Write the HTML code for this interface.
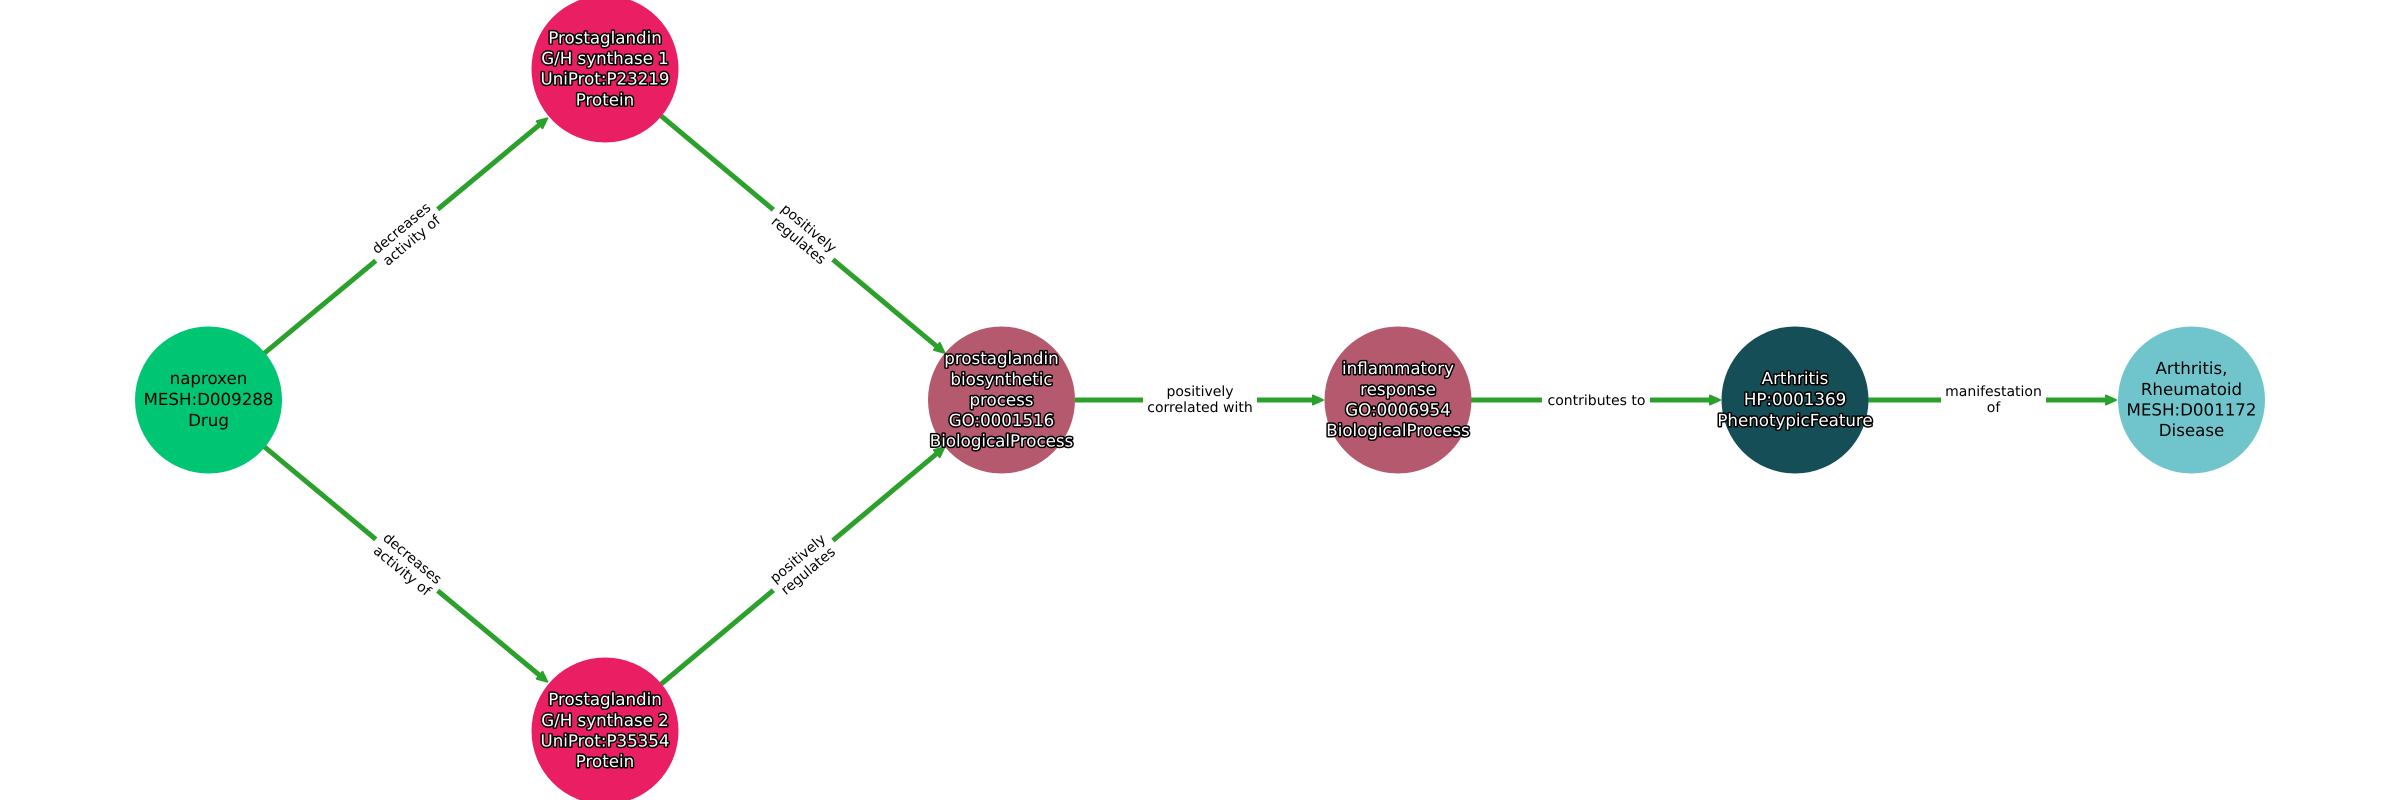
<!DOCTYPE html>
<html><head><meta charset="utf-8"><style>
html,body{margin:0;padding:0;background:#fff;width:2400px;height:800px;overflow:hidden}
svg{display:block}
text{font-family:"DejaVu Sans",sans-serif;text-anchor:middle;text-rendering:geometricPrecision}
.n{font-size:16.67px;fill:#000}
.o{font-size:16.67px;fill:#fff;stroke:#000;stroke-width:3px;paint-order:stroke;stroke-linejoin:round}
.e{font-size:14px;fill:#000}
.l{stroke:#2ca02c;stroke-width:5;fill:none}
.a{fill:#2ca02c;stroke:#2ca02c;stroke-width:2;stroke-linejoin:round}
</style></head><body>
<svg width="2400" height="800" viewBox="0 0 2400 800" xmlns="http://www.w3.org/2000/svg">
<!-- edges -->
<g transform="translate(208,400) rotate(-39.7)">
<line class="l" x1="73" x2="432" y1="0" y2="0"/><polygon class="a" points="441,0 431,-4.5 431,4.5"/>
<rect x="218" y="-30" width="80.5" height="60" fill="#fff"/>
<text class="e" x="258.5" y="-4">decreases</text><text class="e" x="258.5" y="12">activity of</text></g>
<g transform="translate(605,69) rotate(39.9)">
<line class="l" x1="73" x2="434" y1="0" y2="0"/><polygon class="a" points="442.5,0 432.5,-4.5 432.5,4.5"/>
<rect x="219.5" y="-30" width="77.5" height="60" fill="#fff"/>
<text class="e" x="258.5" y="-4">positively</text><text class="e" x="258.5" y="12">regulates</text></g>
<g transform="translate(208,400) rotate(39.7)">
<line class="l" x1="73" x2="432" y1="0" y2="0"/><polygon class="a" points="441,0 431,-4.5 431,4.5"/>
<rect x="218" y="-30" width="80.5" height="60" fill="#fff"/>
<text class="e" x="258.5" y="-4">decreases</text><text class="e" x="258.5" y="12">activity of</text></g>
<g transform="translate(605,731) rotate(-39.9)">
<line class="l" x1="73" x2="434" y1="0" y2="0"/><polygon class="a" points="442.5,0 432.5,-4.5 432.5,4.5"/>
<rect x="219.5" y="-30" width="77.5" height="60" fill="#fff"/>
<text class="e" x="258.5" y="-4">positively</text><text class="e" x="258.5" y="12">regulates</text></g>
<g>
<line class="l" x1="1075" x2="1314" y1="400" y2="400"/><polygon class="a" points="1323,400 1313,395.5 1313,404.5"/>
<rect x="1143" y="380" width="114" height="40" fill="#fff"/>
<text class="e" x="1200" y="396">positively</text><text class="e" x="1200" y="412">correlated with</text>
<line class="l" x1="1471" x2="1711" y1="400" y2="400"/><polygon class="a" points="1720,400 1710,395.5 1710,404.5"/>
<rect x="1542" y="385" width="108" height="30" fill="#fff"/>
<text class="e" x="1596.5" y="405">contributes to</text>
<line class="l" x1="1868" x2="2107" y1="400" y2="400"/><polygon class="a" points="2116,400 2106,395.5 2106,404.5"/>
<rect x="1941" y="380" width="105" height="40" fill="#fff"/>
<text class="e" x="1993.5" y="396">manifestation</text><text class="e" x="1993.5" y="412">of</text>
</g>
<!-- nodes -->
<circle cx="208.5" cy="400" r="73.5" fill="#00c573"/>
<circle cx="605" cy="69" r="73.5" fill="#e91e63"/>
<circle cx="605" cy="731" r="73.5" fill="#e91e63"/>
<circle cx="1001.5" cy="400" r="73.5" fill="#b5596f"/>
<circle cx="1398" cy="400" r="73.5" fill="#b5596f"/>
<circle cx="1795" cy="400" r="73.5" fill="#154e56"/>
<circle cx="2191.5" cy="400" r="73.5" fill="#70c5cc"/>
<!-- node labels -->
<text class="n" x="208.5" y="384">naproxen</text><text class="n" x="208.5" y="405">MESH:D009288</text><text class="n" x="208.5" y="426">Drug</text>
<text class="o" x="605" y="43.5">Prostaglandin</text><text class="o" x="605" y="64">G/H synthase 1</text><text class="o" x="605" y="84.7">UniProt:P23219</text><text class="o" x="605" y="105.4">Protein</text>
<text class="o" x="605" y="705">Prostaglandin</text><text class="o" x="605" y="726">G/H synthase 2</text><text class="o" x="605" y="746.5">UniProt:P35354</text><text class="o" x="605" y="767">Protein</text>
<text class="o" x="1001.5" y="364">prostaglandin</text><text class="o" x="1001.5" y="385">biosynthetic</text><text class="o" x="1001.5" y="405.5">process</text><text class="o" x="1001.5" y="426">GO:0001516</text><text class="o" x="1001.5" y="446.5">BiologicalProcess</text>
<text class="o" x="1398" y="374">inflammatory</text><text class="o" x="1398" y="395">response</text><text class="o" x="1398" y="415.5">GO:0006954</text><text class="o" x="1398" y="436">BiologicalProcess</text>
<text class="o" x="1795" y="384">Arthritis</text><text class="o" x="1795" y="405">HP:0001369</text><text class="o" x="1795" y="426">PhenotypicFeature</text>
<text class="n" x="2191.5" y="374">Arthritis,</text><text class="n" x="2191.5" y="395">Rheumatoid</text><text class="n" x="2191.5" y="415.5">MESH:D001172</text><text class="n" x="2191.5" y="436">Disease</text>
</svg>
</body></html>
